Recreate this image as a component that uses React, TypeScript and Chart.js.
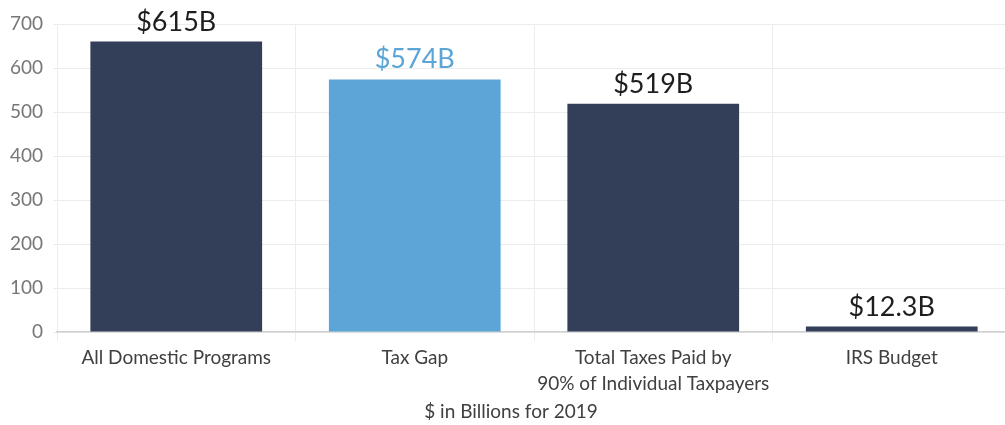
import React, { useEffect, useRef } from "react";
import { Chart, registerables } from "chart.js";

Chart.register(...registerables);

const categories: string[][] = [
  ["All Domestic Programs"],
  ["Tax Gap"],
  ["Total Taxes Paid by", "90% of Individual Taxpayers"],
  ["IRS Budget"],
];
const values: number[] = [660, 574, 519, 12.3];
const valueLabels: string[] = ["$615B", "$574B", "$519B", "$12.3B"];
const barColors: string[] = ["#333f58", "#5ba5d7", "#333f58", "#333f58"];
const labelColors: string[] = ["#1e1e1e", "#5ba5d7", "#1e1e1e", "#1e1e1e"];
const yMin = 0;
const yMax = 700;
const yStep = 100;
const axisTitle = "$ in Billions for 2019";

const FONT = "Lato, 'Open Sans', sans-serif";

const valueLabelPlugin = {
  id: "valueLabels",
  afterDatasetsDraw(chart: any) {
    const ctx = chart.ctx;
    const meta = chart.getDatasetMeta(0);
    ctx.save();
    ctx.font = `27px ${FONT}`;
    ctx.textAlign = "center";
    ctx.textBaseline = "alphabetic";
    meta.data.forEach((bar: any, i: number) => {
      ctx.fillStyle = labelColors[i];
      ctx.fillText(valueLabels[i], bar.x, bar.y - 11);
    });
    ctx.restore();
  },
};

const axisTitlePlugin = {
  id: "axisTitle",
  afterDraw(chart: any) {
    const ctx = chart.ctx;
    ctx.save();
    ctx.font = `19px ${FONT}`;
    ctx.fillStyle = "#404040";
    ctx.textAlign = "center";
    ctx.textBaseline = "middle";
    ctx.fillText(axisTitle, 511, 412);
    ctx.restore();
  },
};

export default function App() {
  const canvasRef = useRef<HTMLCanvasElement | null>(null);

  useEffect(() => {
    if (!canvasRef.current) return;
    const chart = new Chart(canvasRef.current, {
      type: "bar",
      data: {
        labels: categories,
        datasets: [
          {
            data: values,
            backgroundColor: barColors,
            borderWidth: 0,
            barPercentage: 0.72,
            categoryPercentage: 1,
          },
        ],
      },
      plugins: [valueLabelPlugin, axisTitlePlugin],
      options: {
        animation: false,
        responsive: true,
        maintainAspectRatio: false,
        layout: { padding: { top: 24, right: 1, left: 0, bottom: 0 } },
        plugins: {
          legend: { display: false },
          tooltip: { enabled: false },
          title: { display: false },
        },
        scales: {
          x: {
            grid: {
              display: true,
              offset: true,
              color: "#ececec",
              tickLength: 9,
              drawTicks: true,
            },
            border: { display: true, color: "#d0d0d0", width: 1.5 },
            ticks: {
              color: "#404040",
              font: { family: FONT, size: 19, lineHeight: 1.37 },
              padding: 4,
              maxRotation: 0,
              autoSkip: false,
            },
            afterFit(scale: any) {
              scale.height = 93;
            },
          },
          y: {
            min: yMin,
            max: yMax,
            grid: {
              color: "#ececec",
              tickLength: 4,
              drawTicks: true,
            },
            border: { display: false },
            ticks: {
              stepSize: yStep,
              color: "#767676",
              font: { family: FONT, size: 19 },
              padding: 10,
            },
            afterFit(scale: any) {
              scale.width = 57;
            },
          },
        },
      },
    });
    return () => chart.destroy();
  }, []);

  return (
    <div
      style={{
        position: "fixed",
        left: 0,
        top: 0,
        width: 1012,
        height: 425,
        background: "#ffffff",
      }}
    >
      <canvas ref={canvasRef} />
    </div>
  );
}
